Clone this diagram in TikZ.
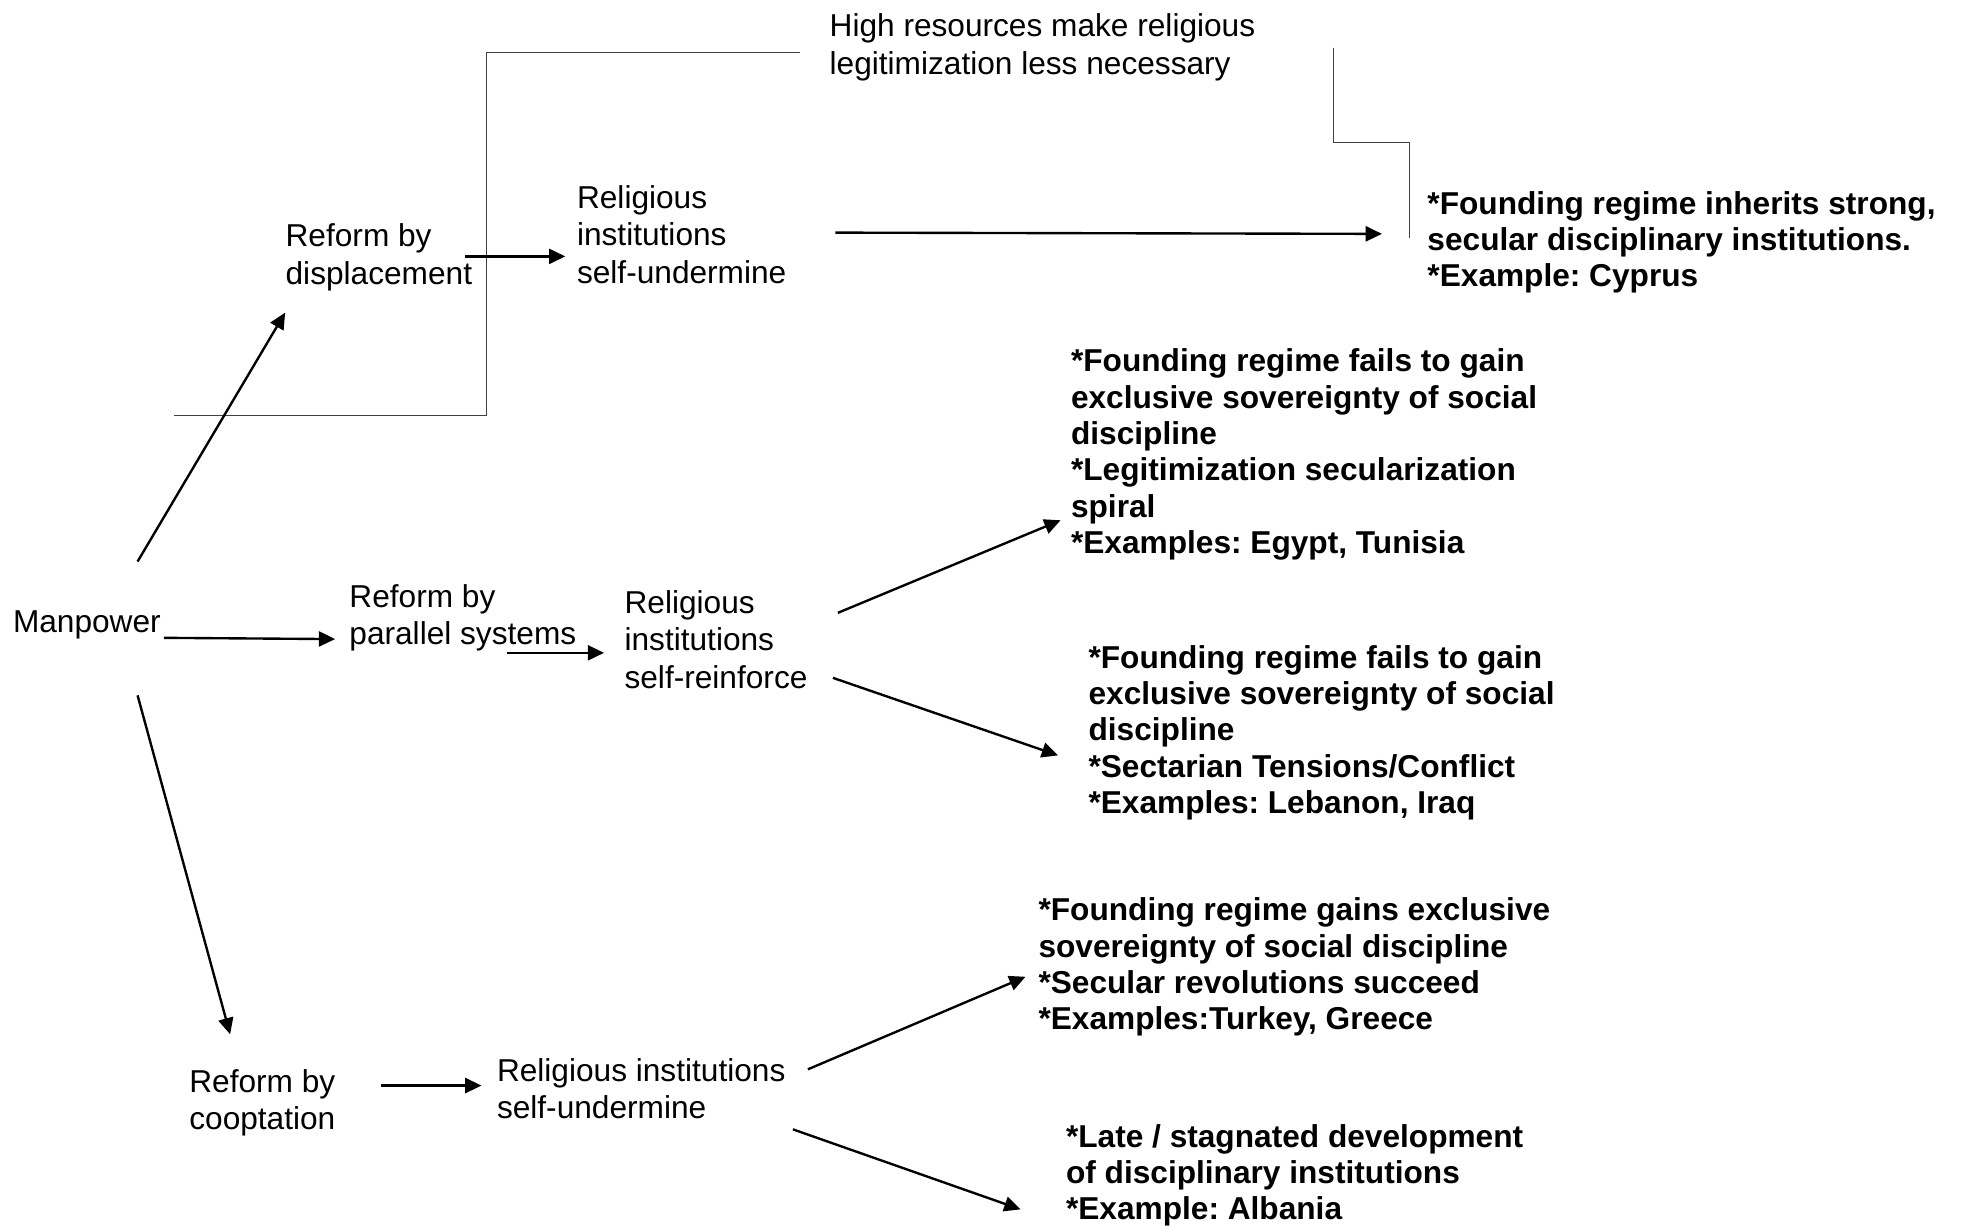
\documentclass[tikz,border=0pt]{standalone}
\usepackage{fontspec}
\setmainfont{Liberation Sans}
\usetikzlibrary{arrows.meta,calc}
\frenchspacing
\tikzset{
  txt/.style={anchor=north west, inner sep=0pt, align=left, font=\fontsize{12.65}{15}\selectfont},
  btxt/.style={anchor=north west, inner sep=0pt, align=left, font=\fontsize{12.65}{14.5}\selectfont\bfseries},
  arr/.style={-{Triangle[length=6.5pt,width=6pt]}, line width=0.95pt},
  thinline/.style={line width=0.45pt, black!75}
}
\newcommand{\fl}{\rule{0pt}{10pt}}
\begin{document}
\begin{tikzpicture}[x=0.5pt,y=-0.5pt]
\useasboundingbox (0,0) rectangle (1568,980);
% text blocks
\node[txt] (man) at (10,485) {\fl Manpower};
\node[txt] (disp) at (228,177) {\fl Reform by\\displacement};
\node[txt] (relA) at (461,146) {\fl Religious\\institutions\\self-undermine};
\node[txt] (high) at (663,9) {\fl High resources make religious\\legitimization less necessary};
\node[btxt] (cyp) at (1141,151) {\fl *Founding regime inherits strong,\\secular disciplinary institutions.\\*Example: Cyprus};
\node[txt] (par) at (279,465) {\fl Reform by\\parallel systems};
\node[txt] (relB) at (499,470) {\fl Religious\\institutions\\self-reinforce};
\node[btxt] (egy) at (856,277) {\fl *Founding regime fails to gain\\exclusive sovereignty of social\\discipline\\*Legitimization secularization\\spiral\\*Examples: Egypt, Tunisia};
\node[btxt] (leb) at (870,514) {\fl *Founding regime fails to gain\\exclusive sovereignty of social\\discipline\\*Sectarian Tensions/Conflict\\*Examples: Lebanon, Iraq};
\node[btxt] (tur) at (830,716) {\fl *Founding regime gains exclusive\\sovereignty of social discipline\\*Secular revolutions succeed\\*Examples:Turkey, Greece};
\node[btxt] (alb) at (852,897) {\fl *Late / stagnated development\\of disciplinary institutions\\*Example: Albania};
\node[txt] (coop) at (151,853) {\fl Reform by\\cooptation};
\node[txt] (relC) at (397,844) {\fl Religious institutions\\self-undermine};
% bracket lines
\draw[thinline] (139,332) -- (389,332) -- (389,42) -- (640,42);
\draw[thinline] (1066,38) -- (1066,114) -- (1127,114) -- (1127,190);
% arrows
\draw[arr] ($(disp.north west)+(144,28)$) -- ($(relA.north west)+(-9,59)$);
\draw[arr] ($(relA.north west)+(207,40)$) -- ($(cyp.north west)+(-36,36)$);
\draw[arr] ($(man.north west)+(100,-36)$) -- ($(disp.north west)+(0,73)$);
\draw[arr] ($(man.north west)+(121,25)$) -- ($(par.north west)+(-11,46)$);
\draw[arr] ($(par.north west)+(126,57)$) -- ($(relB.north west)+(-16,52)$);
\draw[arr] ($(relB.north west)+(171,20)$) -- ($(egy.north west)+(-8,139)$);
\draw[arr] ($(relB.north west)+(167,72)$) -- ($(leb.north west)+(-24,90)$);
\draw[arr] ($(man.north west)+(100,71)$) -- ($(coop.north west)+(33,-26)$);
\draw[arr] ($(coop.north west)+(154,15)$) -- ($(relC.north west)+(-12,24)$);
\draw[arr] ($(relC.north west)+(249,11)$) -- ($(tur.north west)+(-10,65)$);
\draw[arr] ($(relC.north west)+(237,59)$) -- ($(alb.north west)+(-36,70)$);
\end{tikzpicture}
\end{document}
